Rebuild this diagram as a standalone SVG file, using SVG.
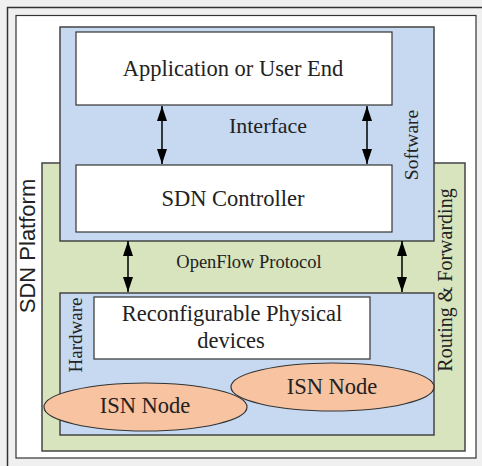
<svg xmlns="http://www.w3.org/2000/svg" width="482" height="466" viewBox="0 0 482 466">
<defs>
<marker id="ah" viewBox="0 0 15 10" refX="15" refY="5" markerWidth="15" markerHeight="10" markerUnits="userSpaceOnUse" orient="auto-start-reverse">
<path d="M0,0 L15,5 L0,10 Z" fill="#000"/>
</marker>
</defs>
<style>
.t{font-family:"Liberation Serif","Times New Roman",serif;fill:#222;text-anchor:middle}
.box{fill:#fff;stroke:#333;stroke-width:1.2}
.blue{fill:#c6d9f0;stroke:#444;stroke-width:1.5}
.green{fill:#d7e4bd;stroke:#444;stroke-width:1.5}
.ell{fill:#f8c3a0;stroke:#333;stroke-width:1.2}
.arr{stroke:#000;stroke-width:1.5;fill:none;marker-start:url(#ah);marker-end:url(#ah)}
</style>
<rect x="0" y="0" width="482" height="466" fill="#f0f0f0"/>
<rect x="7.5" y="7.5" width="480" height="470" fill="#f0f0f0" stroke="#333" stroke-width="1.5"/>
<rect x="16" y="15.5" width="460" height="442.5" fill="#fff" stroke="#333" stroke-width="1.2"/>
<g id="routing-forwarding">
<rect class="green" x="42" y="163" width="423" height="288"/>
<text class="t" font-size="20" transform="translate(452,280) rotate(-90)">Routing  &amp; Forwarding</text>
</g>
<g id="software">
<rect class="blue" x="60" y="27" width="374" height="214"/>
<text class="t" font-size="19.5" transform="translate(418,145) rotate(-90)">Software</text>
</g>
<g id="hardware">
<rect class="blue" x="60" y="293" width="374" height="142"/>
<text class="t" font-size="19" transform="translate(82,335) rotate(-90)">Hardware</text>
</g>
<g id="sdn-platform">
<text font-family="Liberation Sans, Arial, sans-serif" font-size="22" fill="#222" text-anchor="middle" transform="translate(35,246) rotate(-90)">SDN Platform</text>
</g>
<g id="application">
<rect class="box" x="76" y="32" width="316" height="73"/>
<text class="t" font-size="22.5" x="233" y="76">Application or User End</text>
</g>
<g id="sdn-controller">
<rect class="box" x="76" y="165" width="316" height="67"/>
<text class="t" font-size="22.5" x="233" y="206">SDN Controller</text>
</g>
<g id="reconfigurable">
<rect class="box" x="94" y="297" width="276" height="62"/>
<text class="t" font-size="22.5" x="232" y="321">Reconfigurable Physical</text>
<text class="t" font-size="22.5" x="231" y="348">devices</text>
</g>
<g id="isn-node-1">
<ellipse class="ell" cx="145.5" cy="407" rx="101.5" ry="24"/>
<text class="t" font-size="22.5" x="145" y="413">ISN Node</text>
</g>
<g id="isn-node-2">
<ellipse class="ell" cx="332.5" cy="387" rx="101.5" ry="24"/>
<text class="t" font-size="22.5" x="332" y="394">ISN Node</text>
</g>
<g id="connectors">
<line class="arr" x1="162" y1="106" x2="162" y2="164"/>
<line class="arr" x1="367" y1="106" x2="367" y2="164"/>
<line class="arr" x1="128" y1="241" x2="128" y2="292"/>
<line class="arr" x1="402" y1="241" x2="402" y2="292"/>
<text class="t" font-size="18.5" x="249" y="268">OpenFlow Protocol</text>
<text class="t" font-size="22" x="268" y="133">Interface</text>
</g>
</svg>
